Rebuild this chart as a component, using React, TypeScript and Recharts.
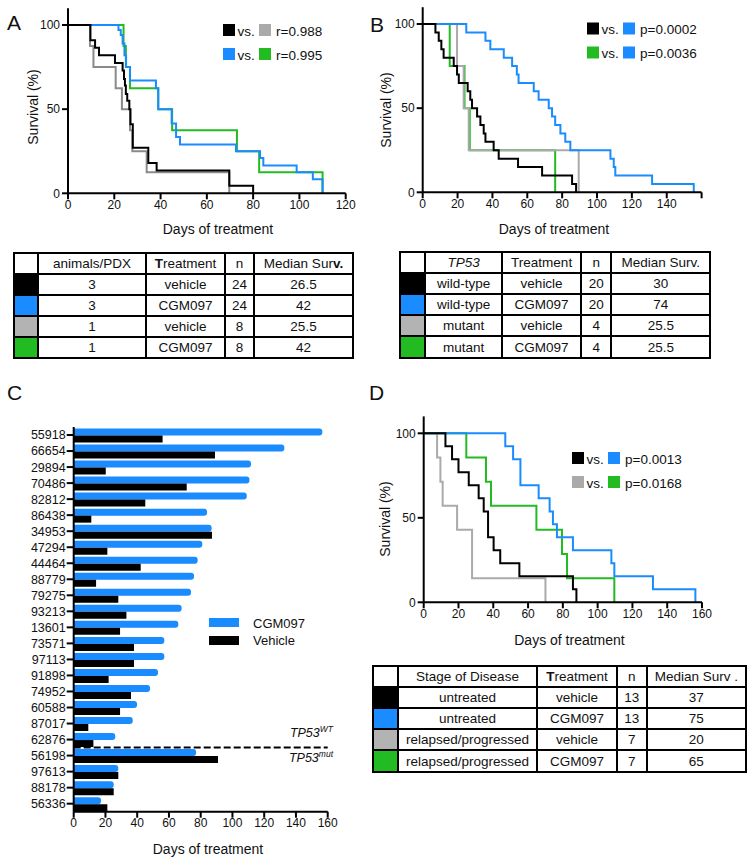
import { LineChart, Line, XAxis, YAxis, BarChart, Bar, ReferenceLine } from "recharts";

const FONT = "Arial, 'Liberation Sans', Helvetica, sans-serif";
const BLUE = "#1a8cff";
const GREEN = "#22bb22";
const GREY = "#aaaaaa";
const GREY_DARK = "#8a8a8a";
const INK = "#111";

type Pt = [number, number]; // [day, survival %]

// A: PDX models grouped by animals per PDX
const aVehicle3: Pt[] = [[0, 100], [9.7, 91], [11.7, 86.5], [13.4, 82], [20.3, 77.5], [23.6, 73], [24.2, 68], [24.6, 64], [25, 59], [25.6, 55], [26.5, 50], [27, 41], [28, 27], [34.7, 18], [38.3, 13.5], [69.7, 4.5], [80, 0]];
const aCgm3: Pt[] = [[0, 100], [21.8, 97], [22.8, 94], [23.6, 89], [24.4, 82], [25.1, 75], [26.8, 67], [38, 62.5], [39, 50], [44.8, 41.5], [46.7, 33.5], [48.4, 29], [72.6, 25], [83, 21], [84.4, 16.5], [98.8, 12.5], [105.8, 8.3], [110, 0]];
const aVehicle1: Pt[] = [[0, 100], [9.5, 87.5], [11, 75], [20.6, 62.5], [23.3, 50], [26.8, 37.5], [27.8, 25], [34, 12.5], [69.7, 0]];
const aCgm1: Pt[] = [[0, 100], [24, 87.5], [25, 75], [26.8, 62.5], [39, 50], [45, 37.5], [73, 25], [82.6, 12.5], [110, 0]];

// B: TP53 status
const bVehicleWt: Pt[] = [[0, 100], [7.3, 95], [9.2, 90], [10.7, 85], [12, 80], [17.8, 75], [19.7, 70], [20.7, 65], [25.8, 60], [27.3, 55], [28.3, 50], [31.2, 45], [33.1, 40], [35, 35], [36, 30], [40.7, 25], [43.6, 20], [54.7, 15], [68.5, 10], [85.7, 5], [88, 0]];
const bCgmWt: Pt[] = [[0, 100], [25, 95], [36, 90], [38.8, 85], [46.5, 80], [51.3, 75], [54, 70], [55, 65], [63.7, 60], [66.5, 55], [72.3, 50], [74.2, 45], [76, 40], [79, 35], [81.8, 30], [84.7, 25], [107.7, 20], [109.6, 15], [110.5, 10], [131.6, 5], [155.5, 0]];
const bVehicleMut: Pt[] = [[0, 100], [19.7, 75], [23.5, 50], [26.4, 25], [89.5, 0]];
const bCgmMut: Pt[] = [[0, 100], [15.5, 75], [24, 50], [27, 25], [76, 0]];

// C: per-PDX survival (days)
const pdxIds = ["55918", "66654", "29894", "70486", "82812", "86438", "34953", "47294", "44464", "88779", "79275", "93213", "13601", "73571", "97113", "91898", "74952", "60588", "87017", "62876", "56198", "97613", "88178", "56336"];
const pdxCgm = [156.6, 132.7, 111.7, 110.7, 109, 84, 86.9, 81, 78.1, 75.8, 73.9, 68, 65.9, 57.1, 57.1, 53.1, 48.1, 39.9, 37.2, 26.2, 77.1, 28.1, 25.2, 17.2];
const pdxVehicle = [56, 89, 20.2, 71.2, 45.1, 11.1, 87.1, 21.2, 42.2, 14.1, 28.1, 33.2, 29.2, 38, 38, 22, 36.1, 29.2, 9.2, 12.4, 90.9, 28.1, 25.2, 21.2];
const lastWildType = "62876";

// D: stage of disease
const dVehicleUntreated: Pt[] = [[0, 100], [12.5, 92.3], [16.3, 84.6], [20, 76.9], [25.9, 69.2], [31.6, 61.5], [34.5, 53.8], [37, 38.5], [40.2, 30.8], [44, 23.1], [55, 15.4], [85.8, 7.7], [87.8, 0]];
const dCgmUntreated: Pt[] = [[0, 100], [46.9, 92.3], [51.4, 84.6], [55.6, 69.2], [66.1, 61.5], [72.4, 53.8], [74.3, 46.2], [76.6, 38.5], [85.8, 30.8], [107.9, 23.1], [109.6, 15.4], [131.8, 7.7], [156.2, 0]];
const dVehicleRelapsed: Pt[] = [[0, 100], [7.7, 85.7], [9.6, 71.4], [10.9, 57.1], [19.2, 42.9], [27.8, 14.3], [70, 0]];
const dCgmRelapsed: Pt[] = [[0, 100], [24.5, 85.7], [35.8, 71.4], [38.7, 57.1], [64.8, 42.9], [79.5, 28.6], [82.4, 14.3], [109.6, 0]];

const survTicks = [0, 50, 100];
const dayTicks120 = [0, 20, 40, 60, 80, 100, 120];
const dayTicks160 = [0, 20, 40, 60, 80, 100, 120, 140, 160];

const legendA = [
  { a: "#000", b: GREY, text: "r=0.988" },
  { a: BLUE, b: GREEN, text: "r=0.995" },
];
const legendB = [
  { a: "#000", b: BLUE, text: "p=0.0002" },
  { a: GREEN, b: BLUE, text: "p=0.0036" },
];
const legendD = [
  { a: "#000", b: BLUE, text: "p=0.0013" },
  { a: GREY, b: GREEN, text: "p=0.0168" },
];

const swatches = ["#000", BLUE, "#b3b3b3", GREEN];

const tableAHeader = ["animals/PDX", <><b>T</b>reatment</>, "n", <>Median Sur <b>v.</b></>];
const tableARows = [
  ["3", "vehicle", "24", "26.5"],
  ["3", "CGM097", "24", "42"],
  ["1", "vehicle", "8", "25.5"],
  ["1", "CGM097", "8", "42"],
];
const tableBHeader = [<i>TP53</i>, "Treatment", "n", "Median Surv."];
const tableBRows = [
  ["wild-type", "vehicle", "20", "30"],
  ["wild-type", "CGM097", "20", "74"],
  ["mutant", "vehicle", "4", "25.5"],
  ["mutant", "CGM097", "4", "25.5"],
];
const tableDHeader = ["Stage of Disease", <><b>T</b>reatment</>, "n", "Median Surv ."];
const tableDRows = [
  ["untreated", "vehicle", "13", "37"],
  ["untreated", "CGM097", "13", "75"],
  ["relapsed/progressed", "vehicle", "7", "20"],
  ["relapsed/progressed", "CGM097", "7", "65"],
];

const steps = (pts: Pt[]) => pts.map(([day, surv]) => ({ day, surv }));

const axisLine = { stroke: "#000", strokeWidth: 2 };
const tickStyle = { fill: INK, fontSize: 12, fontFamily: FONT };

type Curve = { pts: Pt[]; color: string };

function SurvivalPanel(props: {
  left: number;
  top: number;
  width: number;
  height: number;
  margin: { top: number; right: number; bottom: number; left: number };
  xMax: number;
  xTicks: number[];
  lastLabel: number;
  curves: Curve[];
}) {
  const { left, top, width, height, margin, xMax, xTicks, lastLabel, curves } = props;
  return (
    <div style={{ position: "absolute", left, top }}>
      <LineChart width={width} height={height} margin={margin}>
        <XAxis
          type="number"
          dataKey="day"
          domain={[0, xMax]}
          ticks={xTicks}
          height={20}
          axisLine={axisLine}
          tickLine={axisLine}
          tickSize={6}
          tickMargin={1}
          tick={tickStyle}
          tickFormatter={(v) => (v > lastLabel ? "" : String(v))}
        />
        <YAxis
          type="number"
          domain={[0, 110]}
          ticks={survTicks}
          width={40}
          axisLine={axisLine}
          tickLine={axisLine}
          tickSize={6}
          tickMargin={2}
          tick={tickStyle}
        />
        {curves.map((c, i) => (
          <Line
            key={i}
            data={steps(c.pts)}
            dataKey="surv"
            type="stepAfter"
            stroke={c.color}
            strokeWidth={2}
            dot={false}
            isAnimationActive={false}
          />
        ))}
      </LineChart>
    </div>
  );
}

function SummaryTable(props: {
  x: number;
  y: number;
  cols: number[];
  rowH: number;
  header: React.ReactNode[];
  rows: string[][];
}) {
  const { x, y, cols, rowH, header, rows } = props;
  const cell: React.CSSProperties = {
    background: "#fff",
    display: "flex",
    alignItems: "center",
    justifyContent: "center",
    whiteSpace: "nowrap",
  };
  return (
    <div
      style={{
        position: "absolute",
        left: x - 1,
        top: y - 1,
        display: "grid",
        gridTemplateColumns: cols.map((w) => `${w - 2}px`).join(" "),
        gridAutoRows: `${rowH - 2}px`,
        gap: 2,
        padding: 2,
        background: "#000",
        fontSize: 13.5,
        color: INK,
      }}
    >
      {[header, ...rows].map((row, r) => [
        <div key={`s${r}`} style={{ background: r === 0 ? "#fff" : swatches[r - 1] }} />,
        ...row.map((v, c) => (
          <div key={`c${r}-${c}`} style={cell}>
            {v}
          </div>
        )),
      ])}
    </div>
  );
}

function PairLegend({ x, y, rows }: { x: number; y: number; rows: { a: string; b: string; text: string }[] }) {
  return (
    <g fontSize={13.5} fill={INK}>
      {rows.map((r, i) => {
        const ry = y + i * 24;
        return (
          <g key={i}>
            <rect x={x} y={ry} width={12} height={12} fill={r.a} />
            <text x={x + 14.5} y={ry + 11.5}>vs.</text>
            <rect x={x + 36} y={ry} width={12} height={12} fill={r.b} />
            <text x={x + 53} y={ry + 11.5}>{r.text}</text>
          </g>
        );
      })}
    </g>
  );
}

function YTitle({ x, y }: { x: number; y: number }) {
  return (
    <text x={x} y={y} dy="0.35em" textAnchor="middle" fontSize={14} transform={`rotate(-90 ${x} ${y})`}>
      Survival (%)
    </text>
  );
}

function XTitle({ x, y }: { x: number; y: number }) {
  return (
    <text x={x} y={y} textAnchor="middle" fontSize={14}>
      Days of treatment
    </text>
  );
}

export default function App() {
  const pdxRows = pdxIds.map((pdx, i) => ({ pdx, cgm: pdxCgm[i], vehicle: pdxVehicle[i] }));

  return (
    <div style={{ position: "absolute", left: 0, top: 0, width: 754, height: 865, background: "#fff", fontFamily: FONT, color: INK }}>
      <SurvivalPanel
        left={0}
        top={0}
        width={360}
        height={220}
        margin={{ top: 8.2, right: 14.3, left: 28, bottom: 6.7 }}
        xMax={120}
        xTicks={dayTicks120}
        lastLabel={120}
        curves={[
          { pts: aCgm1, color: GREEN },
          { pts: aCgm3, color: BLUE },
          { pts: aVehicle1, color: GREY_DARK },
          { pts: aVehicle3, color: "#000" },
        ]}
      />
      <SurvivalPanel
        left={377}
        top={0}
        width={377}
        height={220}
        margin={{ top: 7.2, right: 52.4, left: 5.7, bottom: 7.7 }}
        xMax={160}
        xTicks={dayTicks160}
        lastLabel={140}
        curves={[
          { pts: bCgmMut, color: GREEN },
          { pts: bVehicleMut, color: GREY },
          { pts: bCgmWt, color: BLUE },
          { pts: bVehicleWt, color: "#000" },
        ]}
      />
      <SurvivalPanel
        left={377}
        top={380}
        width={377}
        height={250}
        margin={{ top: 36.4, right: 52, left: 6.7, bottom: 7.7 }}
        xMax={160}
        xTicks={dayTicks160}
        lastLabel={160}
        curves={[
          { pts: dVehicleRelapsed, color: GREY },
          { pts: dCgmRelapsed, color: GREEN },
          { pts: dCgmUntreated, color: BLUE },
          { pts: dVehicleUntreated, color: "#000" },
        ]}
      />

      <div style={{ position: "absolute", left: 0, top: 380 }}>
        <BarChart
          layout="vertical"
          width={360}
          height={460}
          data={pdxRows}
          margin={{ top: 47, right: 32.3, left: 3.7, bottom: 8.3 }}
          barCategoryGap={1.5}
          barGap={0}
        >
          <XAxis
            type="number"
            domain={[0, 160]}
            ticks={dayTicks160}
            height={20}
            axisLine={axisLine}
            tickLine={axisLine}
            tickSize={6}
            tickMargin={1}
            tick={tickStyle}
          />
          <YAxis
            type="category"
            dataKey="pdx"
            width={70}
            interval={0}
            axisLine={axisLine}
            tickLine={axisLine}
            tickSize={7}
            tickMargin={1}
            tick={{ ...tickStyle, fontSize: 12.5 }}
          />
          <Bar dataKey="cgm" fill={BLUE} radius={[0, 3, 3, 0]} isAnimationActive={false} />
          <Bar dataKey="vehicle" fill="#000" isAnimationActive={false} />
          <ReferenceLine y={lastWildType} position="end" stroke="#000" strokeWidth={2} strokeDasharray="7 3" />
        </BarChart>
      </div>

      <SummaryTable x={14} y={253} cols={[24, 108, 79, 29, 99]} rowH={21.1} header={tableAHeader} rows={tableARows} />
      <SummaryTable x={400.3} y={251.7} cols={[25, 76.7, 79.3, 30, 99]} rowH={21.2} header={tableBHeader} rows={tableBRows} />
      <SummaryTable x={373.3} y={665.7} cols={[24.4, 139.6, 79.4, 30, 99.3]} rowH={21.2} header={tableDHeader} rows={tableDRows} />

      <svg width={754} height={865} style={{ position: "absolute", left: 0, top: 0, pointerEvents: "none" }} fontFamily={FONT} fill={INK}>
        <g fontSize={21}>
          <text x={7} y={30}>A</text>
          <text x={370} y={32}>B</text>
          <text x={7} y={400}>C</text>
          <text x={369} y={400}>D</text>
        </g>

        <PairLegend x={223} y={24} rows={legendA} />
        <PairLegend x={587} y={22.5} rows={legendB} />
        <PairLegend x={572} y={452} rows={legendD} />

        <YTitle x={33} y={107} />
        <YTitle x={386} y={110} />
        <YTitle x={385} y={519} />
        <XTitle x={218} y={234} />
        <XTitle x={554} y={234} />
        <XTitle x={208} y={853.7} />
        <XTitle x={569.5} y={645.3} />

        <rect x={209} y={618} width={30} height={9} fill={BLUE} />
        <text x={253} y={628} fontSize={13}>CGM097</text>
        <rect x={209} y={636} width={30} height={9} fill="#000" />
        <text x={253} y={645} fontSize={13}>Vehicle</text>

        <g fontSize={12.5} fontStyle="italic" textAnchor="end">
          <text x={333} y={737}>
            TP53<tspan fontSize={8.5} dy={-5}>WT</tspan>
          </text>
          <text x={333} y={762}>
            TP53<tspan fontSize={8.5} dy={-5}>mut</tspan>
          </text>
        </g>
      </svg>
    </div>
  );
}
